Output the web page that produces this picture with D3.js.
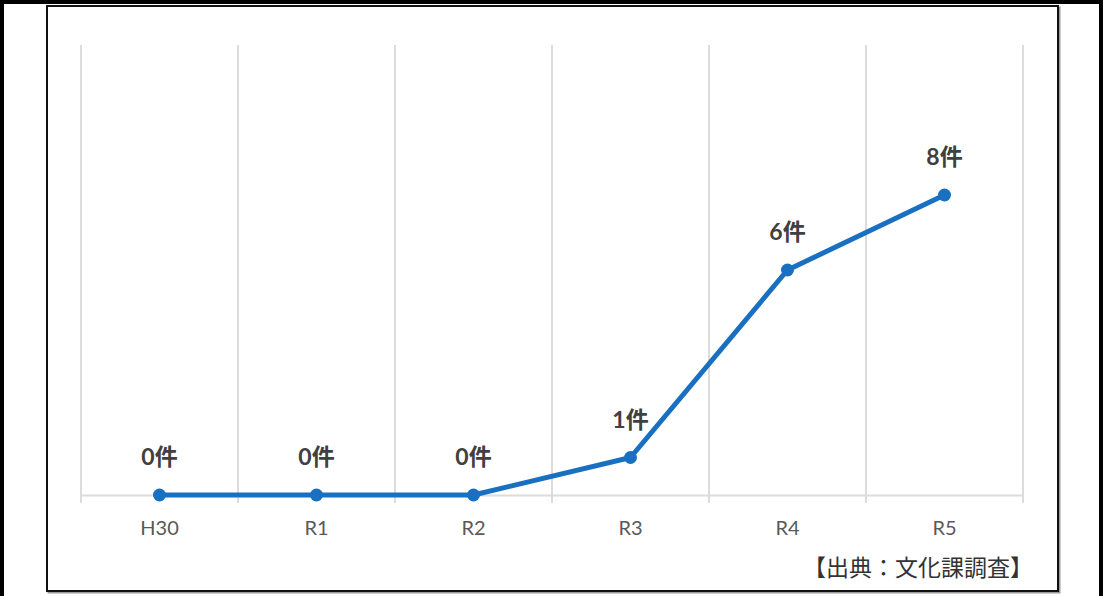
<!DOCTYPE html>
<html><head><meta charset="utf-8">
<script src="https://cdn.jsdelivr.net/npm/d3@7"></script>
<style>body{margin:0;background:#fff;}svg{display:block;}</style>
</head><body>
<svg id="c" width="1106" height="596"></svg>
<script>
const categories = ["H30","R1","R2","R3","R4","R5"];
const values = [0,0,0,1,6,8];
const valueLabels = ["0件","0件","0件","1件","6件","8件"];
const sourceText = "【出典：文化課調査】";

(function(){
const svg = d3.select("#c");
const W = 1106, H = 596;
const font = "Lato, 'Noto Sans CJK JP', sans-serif";

// outer frame
svg.append("path").attr("d", `M2,${H} L2,2 L1101,2 L1101,${H}`)
  .attr("fill","none").attr("stroke","#000").attr("stroke-width",4);
// inner box with shadow
svg.append("rect").attr("x",48.5).attr("y",7.5).attr("width",1011).attr("height",585)
  .attr("fill","none").attr("stroke","#9a9a9a").attr("stroke-width",2);
svg.append("rect").attr("x",47).attr("y",6).attr("width",1011).attr("height",585)
  .attr("fill","#fff").attr("stroke","#111").attr("stroke-width",2);

const pl = 81, pr = 1023, pt = 45, pb = 495;
const x = d3.scaleBand().domain(categories).range([pl, pr]);
const y = d3.scaleLinear().domain([0, 12]).range([pb, pt]);

// vertical gridlines at band boundaries
const bounds = categories.map(c => x(c)).concat([pr]);
svg.append("g").selectAll("line").data(bounds).join("line")
  .attr("x1", d => d).attr("x2", d => d).attr("y1", pt).attr("y2", pb + 8)
  .attr("stroke", "#dcdcdc").attr("stroke-width", 2);

// x axis
const xAxis = svg.append("g").attr("transform", `translate(0,${pb})`)
  .call(d3.axisBottom(x).tickSize(0).tickPadding(26));
xAxis.select(".domain").attr("stroke","#dcdcdc").attr("stroke-width",2);
xAxis.selectAll("text").attr("font-family", font).attr("font-size", 20).attr("fill", "#595959");

const cx = c => x(c) + x.bandwidth()/2;
const line = d3.line().x((d,i) => cx(categories[i])).y(d => y(d));
svg.append("path").datum(values).attr("d", line)
  .attr("fill","none").attr("stroke","#1a70c0").attr("stroke-width",5)
  .attr("stroke-linejoin","round");

svg.append("g").selectAll("circle").data(values).join("circle")
  .attr("cx", (d,i) => cx(categories[i])).attr("cy", d => y(d)).attr("r", 6.5)
  .attr("fill", "#1a70c0");

svg.append("g").selectAll("text").data(values).join("text")
  .attr("x", (d,i) => cx(categories[i])).attr("y", d => y(d) - 30)
  .attr("text-anchor","middle").attr("font-family", font).attr("font-weight","bold")
  .attr("font-size", 23).attr("fill", "#404040")
  .text((d,i) => valueLabels[i]);

svg.append("text").attr("x", 1033).attr("y", 576).attr("text-anchor","end")
  .attr("font-family", font).attr("font-size", 23).attr("fill","#333")
  .text(sourceText);
})();
</script>
</body></html>
